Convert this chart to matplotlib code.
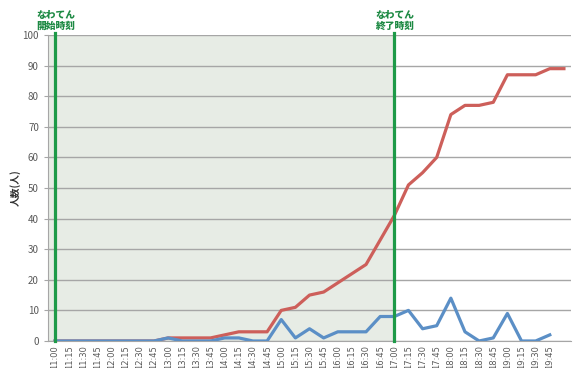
import matplotlib
matplotlib.use("Agg")
import matplotlib.pyplot as plt

plt.rcParams['font.family'] = ['Noto Sans CJK JP', 'DejaVu Sans']

time_labels = ["11:00", "11:15", "11:30", "11:45", "12:00", "12:15", "12:30", "12:45",
               "13:00", "13:15", "13:30", "13:45", "14:00", "14:15", "14:30", "14:45",
               "15:00", "15:15", "15:30", "15:45", "16:00", "16:15", "16:30", "16:45",
               "17:00", "17:15", "17:30", "17:45", "18:00", "18:15", "18:30", "18:45",
               "19:00", "19:15", "19:30", "19:45", ""]
per_slot = [0, 0, 0, 0, 0, 0, 0, 0,
            1, 0, 0, 0, 1, 1, 0, 0,
            7, 1, 4, 1, 3, 3, 3, 8,
            8, 10, 4, 5, 14, 3, 0, 1,
            9, 0, 0, 2]
cumulative = [0, 0, 0, 0, 0, 0, 0, 0,
              1, 1, 1, 1, 2, 3, 3, 3,
              10, 11, 15, 16, 19, 22, 25, 33,
              41, 51, 55, 60, 74, 77, 77, 78,
              87, 87, 87, 89, 89]
event_start = "11:00"
event_end = "17:00"
start_text = "なわてん\n開始時刻"
end_text = "なわてん\n終了時刻"
ylabel = "人数(人)"

fig = plt.figure(figsize=(5.73, 3.68), dpi=100)
ax = fig.add_axes([0.0838, 0.0734, 0.9127, 0.8315])

xs = list(range(len(time_labels)))
i_start = time_labels.index(event_start)
i_end = time_labels.index(event_end)

ax.axvspan(-0.5, i_end, color="#E7ECE5", zorder=0, lw=0)
ax.set_xlim(-0.5, len(time_labels) - 0.5)
ax.set_ylim(0, 100)
ax.set_yticks(range(0, 101, 10))
ax.yaxis.grid(True, color="#A6A6A6", lw=1.0, zorder=1)
ax.set_axisbelow(True)

ax.plot(list(range(len(cumulative))), cumulative, color="#CD5F5A", lw=2.3, zorder=3,
        solid_joinstyle="round")
ax.plot(list(range(len(per_slot))), per_slot, color="#5B8FC6", lw=2.3, zorder=4,
        solid_joinstyle="round")

for i in (i_start, i_end):
    ax.axvline(i, ymin=0, ymax=1.008, color="#1E9A48", lw=2.3, zorder=5, clip_on=False)

ax.text(i_start - 1.3, 101.5, start_text, color="#1E8A44", fontsize=7, fontweight="heavy",
        ha="left", va="bottom", linespacing=1.0)
ax.text(i_end - 1.3, 101.5, end_text, color="#1E8A44", fontsize=7, fontweight="heavy",
        ha="left", va="bottom", linespacing=1.0)

ax.set_xticks(xs)
ax.set_xticklabels(time_labels, rotation=90, fontsize=6, color="#595959",
                   family=['DejaVu Sans'])
ax.tick_params(axis='x', length=0, pad=3)
ax.tick_params(axis='y', length=3, color="#A6A6A6", labelsize=7, labelcolor="#595959")

for s in ("top", "right"):
    ax.spines[s].set_visible(False)
ax.spines["left"].set_color("#A6A6A6")
ax.spines["bottom"].set_color("#A6A6A6")

ax.set_ylabel(ylabel, fontsize=7, fontweight="bold", color="#333333", labelpad=1)

fig.savefig("out.png", dpi=100)
